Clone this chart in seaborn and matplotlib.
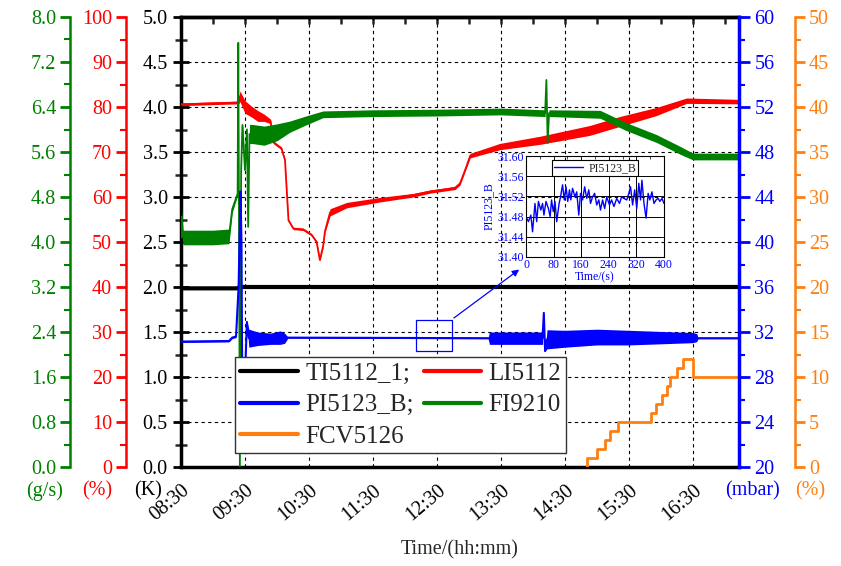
"""Cryogenic run overview: five process signals on stacked y-axes with a zoomed inset."""

import matplotlib
matplotlib.use("Agg")
import matplotlib.pyplot as plt
import seaborn as sns
import pandas as pd
import numpy as np
from matplotlib.lines import Line2D
from matplotlib.patches import Rectangle

# clock time is given in hours, 8.5 == 08:30
hour_ticks = [8.5, 9.5, 10.5, 11.5, 12.5, 13.5, 14.5, 15.5, 16.5]
hour_labels = ["08:30", "09:30", "10:30", "11:30", "12:30", "13:30", "14:30", "15:30", "16:30"]
t_end = 17.22

# TI5112_1, temperature (K)
ti_time = [8.5, 9.38, 9.42, t_end]
ti_val = [1.985, 1.985, 2.0, 2.0]

# LI5112, level (%)
li_time = [8.5, 9.40, 9.42, 9.5, 9.6, 9.7, 9.8, 9.9, 9.94, 10.07, 10.125, 10.18, 10.255,
           10.41, 10.54, 10.62, 10.67, 10.72, 10.75, 10.83, 11.09, 11.61, 12.13, 12.39,
           12.78, 12.86, 12.94, 13.02, 13.48, 14.11, 14.89, 15.36, 15.93, 16.4, t_end]
li_val = [80.6, 81.0, 82.4, 80.0, 79.0, 78.0, 77.6, 76.8, 72.2, 70.8, 68.2, 54.8, 53.0,
          52.8, 51.6, 50.0, 46.0, 49.0, 52.4, 56.6, 58.2, 59.4, 60.4, 61.2,
          62.0, 63.0, 66.0, 69.2, 71.2, 72.6, 74.8, 76.8, 79.0, 81.4, 81.2]
li_noise = [0.3, 0.3, 1.2, 1.4, 1.2, 1.2, 0.8, 0.5, 0.3, 0.3, 0.25, 0.25, 0.25,
            0.25, 0.25, 0.25, 0.25, 0.25, 0.3, 0.8, 0.6, 0.5, 0.4, 0.35,
            0.35, 0.35, 0.3, 0.5, 0.7, 0.9, 1.1, 1.1, 0.9, 0.6, 0.5]

# FI9210, flow (g/s)
fi_time = [8.5, 8.51, 8.53, 9.0, 9.25, 9.30, 9.385, 9.395, 9.405, 9.42, 9.44, 9.46, 9.50,
           9.53, 9.55, 9.57, 9.62, 9.8, 10.0, 10.2, 10.45, 10.72, 11.5, 12.5, 13.5,
           14.19, 14.21, 14.23, 14.25, 14.27, 15.05, 15.46, 15.93, 16.3, 16.5, t_end]
fi_val = [4.08, 4.45, 4.08, 4.08, 4.10, 4.58, 4.86, 7.54, 4.80, 0.0, 5.28, 6.08, 5.28,
          6.00, 4.27, 5.92, 5.92, 5.89, 5.95, 6.05, 6.16, 6.27, 6.29, 6.30, 6.32,
          6.29, 6.88, 5.76, 6.29, 6.29, 6.27, 6.05, 5.84, 5.63, 5.52, 5.52]
fi_noise = [0.12, 0.12, 0.13, 0.13, 0.13, 0.06, 0.03, 0.0, 0.0, 0.0, 0.0, 0.06, 0.06,
            0.06, 0.0, 0.17, 0.17, 0.17, 0.15, 0.1, 0.08, 0.06, 0.06, 0.06, 0.06,
            0.06, 0.0, 0.0, 0.06, 0.06, 0.07, 0.07, 0.07, 0.07, 0.06, 0.06]

# PI5123_B, pressure (mbar)
pi_time = [8.5, 9.25, 9.30, 9.36, 9.40, 9.43, 9.445, 9.46, 9.50, 9.53, 9.56, 9.7, 9.9,
           10.05, 10.12, 10.17, 13.30, 13.32, 14.15, 14.17, 14.19, 14.22, 14.5, 15.0,
           15.5, 16.0, 16.5, 16.56, 16.58, t_end]
pi_val = [31.15, 31.2, 31.5, 31.6, 36.0, 44.5, 40.0, 24.0, 28.0, 32.9, 31.45, 31.4, 31.4,
          31.5, 31.45, 31.5, 31.45, 31.45, 31.45, 33.7, 30.3, 31.35, 31.4, 31.55,
          31.5, 31.5, 31.5, 31.5, 31.45, 31.45]
pi_noise = [0.08, 0.08, 0.08, 0.1, 0.0, 0.0, 0.0, 0.0, 0.0, 0.0, 0.8, 0.6, 0.5,
            0.6, 0.45, 0.05, 0.05, 0.55, 0.55, 0.0, 0.0, 0.85, 0.75, 0.7,
            0.65, 0.55, 0.45, 0.35, 0.05, 0.05]

# FCV5126, valve opening (%)
fcv_time = [14.84, 14.84, 15.0, 15.125, 15.2, 15.33, 15.85, 15.93, 16.01, 16.09, 16.14,
            16.25, 16.35, 16.5, t_end]
fcv_val = [0, 1, 2, 3, 4, 5, 6, 7, 8, 9, 10, 11, 12, 10, 10]

# inset: PI5123_B over a 400 s window
in_time = [0, 7, 14, 19, 26, 31, 36, 43, 48, 52, 58, 65, 70, 74, 79, 84, 89, 96, 100, 106,
           111, 116, 121, 126, 130, 135, 142, 147, 153, 158, 164, 170, 176, 182, 187, 193,
           199, 205, 211, 216, 222, 228, 234, 242, 248, 255, 263, 271, 277, 284, 292, 298,
           303, 309, 315, 321, 327, 332, 336, 342, 348, 354, 359, 365, 371, 377, 383, 388,
           394, 400]
in_val = [31.480, 31.470, 31.483, 31.450, 31.506, 31.470, 31.510, 31.493, 31.506, 31.483,
          31.510, 31.496, 31.480, 31.513, 31.490, 31.510, 31.470, 31.506, 31.519, 31.543,
          31.513, 31.539, 31.510, 31.533, 31.513, 31.536, 31.519, 31.529, 31.483, 31.526,
          31.513, 31.539, 31.516, 31.533, 31.506, 31.519, 31.526, 31.503, 31.513, 31.493,
          31.513, 31.496, 31.519, 31.503, 31.513, 31.500, 31.516, 31.506, 31.519, 31.516,
          31.513, 31.526, 31.539, 31.503, 31.533, 31.496, 31.546, 31.513, 31.552, 31.506,
          31.477, 31.526, 31.513, 31.529, 31.506, 31.513, 31.516, 31.510, 31.516, 31.506]
# zoom window marked on the main plot (hours, mbar)
zoom_box = (12.17, 30.3, 12.73, 33.1)
zoom_arrow_to = (13.82, 37.7)

GREEN = "#008000"
RED = "#ff0000"
BLUE = "#0000ff"
ORANGE = "#ff7f0e"
FS = 14.5


def draw_series(axis, tvals, vvals, color, lwidth, noise=None, **kws):
    """Line through the readings, plus a filled band for the signal noise."""
    dfrm = pd.DataFrame({"t": tvals, "v": vvals})
    sns.lineplot(data=dfrm, x="t", y="v", ax=axis, color=color, lw=lwidth,
                 estimator=None, sort=False, **kws)
    if noise is not None:
        vals = np.array(vvals)
        nse = np.array(noise)
        axis.fill_between(tvals, vals - nse, vals + nse, color=color, lw=0)
    axis.set_xlabel("")
    axis.set_ylabel("")


def style_twin(axis, side, pos, color, lim, major, minor, fmt):
    """Put a twin y-axis on one side, at pos in axes fraction."""
    for name in ("top", "bottom", "left", "right"):
        axis.spines[name].set_visible(False)
    axis.spines[side].set_visible(True)
    axis.spines[side].set_position(("axes", pos))
    axis.spines[side].set_color(color)
    axis.spines[side].set_linewidth(2.5 if pos == 1 else 1.8)
    axis.yaxis.set_ticks_position(side)
    axis.set_ylim(*lim)
    axis.set_yticks(np.arange(lim[0], lim[1] + major / 2, major))
    axis.set_yticks(np.arange(lim[0], lim[1] + minor / 2, minor), minor=True)
    axis.set_yticklabels([fmt.format(v) for v in np.arange(lim[0], lim[1] + major / 2, major)])
    axis.tick_params(axis="y", which="major", direction="out", length=7, width=2,
                     color=color, labelcolor=color, labelsize=FS, pad=3)
    axis.tick_params(axis="y", which="minor", direction="out", length=4, width=1.5, color=color)


sns.set_theme(style="white")
plt.rcParams["font.family"] = ["Liberation Serif", "DejaVu Serif"]

fig = plt.figure(figsize=(8.41, 5.66), dpi=100)
ax = fig.add_axes([181 / 841, 1 - 467 / 566, 558 / 841, 450 / 566])
ax_r = ax.twinx()
ax_g = ax.twinx()
ax_o = ax.twinx()
ax_b = ax.twinx()

# main K axis and time axis
draw_series(ax, ti_time, ti_val, "black", 3.0)
ax.set_xlim(8.5, t_end)
ax.set_ylim(0, 5.0)
ax.set_yticks(np.arange(0, 5.01, 0.5))
ax.set_yticks(np.arange(0, 5.01, 0.25), minor=True)
ax.set_yticklabels(["{:.1f}".format(v) for v in np.arange(0, 5.01, 0.5)])
ax.set_xticks(hour_ticks)
ax.set_xticks(np.arange(8.5, t_end, 0.5), minor=True)
ax.set_xticklabels(hour_labels, rotation=40, ha="right", rotation_mode="anchor")
ax.tick_params(axis="both", which="major", direction="inout", length=12, width=2,
               labelsize=FS, colors="black")
ax.tick_params(axis="both", which="minor", direction="inout", length=8, width=1.8)
ax.tick_params(axis="x", which="major", pad=4)
for name in ("left", "bottom", "top"):
    ax.spines[name].set_linewidth(2.5)
    ax.spines[name].set_color("black")
ax.grid(True, which="major", color="black", ls=(0, (3, 3)), lw=0.8)
top = ax.secondary_xaxis("top")
top.set_xticks(np.arange(8.5, t_end, 0.5))
top.tick_params(direction="in", length=5, width=1.8, labeltop=False)
top.spines["top"].set_linewidth(2.5)

draw_series(ax_r, li_time, li_val, RED, 1.3, li_noise)
style_twin(ax_r, "left", -55 / 558, RED, (0, 100), 10, 5, "{:.0f}")

draw_series(ax_g, fi_time, fi_val, GREEN, 1.3, fi_noise)
style_twin(ax_g, "left", -111 / 558, GREEN, (0, 8.0), 0.8, 0.4, "{:.1f}")

draw_series(ax_o, fcv_time, fcv_val, ORANGE, 2.0, drawstyle="steps-post")
style_twin(ax_o, "right", 1 + 56 / 558, ORANGE, (0, 50), 5, 2.5, "{:.0f}")

draw_series(ax_b, pi_time, pi_val, BLUE, 1.5, pi_noise)
style_twin(ax_b, "right", 1, BLUE, (20, 60), 4, 2, "{:.0f}")
ax_b.tick_params(axis="y", which="major", length=8)
for axis in (ax_r, ax_g, ax_o, ax_b):
    axis.set_xlim(8.5, t_end)

# zoom window and pointer to the inset
x0, y0, x1, y1 = zoom_box
ax_b.add_patch(Rectangle((x0, y0), x1 - x0, y1 - y0, fill=False, ec=BLUE, lw=0.9))
ax_b.annotate("", xy=zoom_arrow_to, xytext=(x1, y1),
              arrowprops=dict(arrowstyle="-|>", color=BLUE, lw=0.9, mutation_scale=10))

handles = [Line2D([], [], color="black", lw=3), Line2D([], [], color=BLUE, lw=3),
           Line2D([], [], color=ORANGE, lw=3), Line2D([], [], color=RED, lw=3),
           Line2D([], [], color=GREEN, lw=3)]
labels = ["TI5112_1;", "PI5123_B;", "FCV5126", "LI5112", "FI9210"]
leg = ax_b.legend(handles, labels, ncol=2, loc="lower left", bbox_to_anchor=(0.097, 0.031),
                  borderaxespad=0, fontsize=18, handlelength=2.3, handletextpad=0.3,
                  columnspacing=0.4, labelspacing=0.37, borderpad=0.2, fancybox=False,
                  framealpha=1, edgecolor="#333333")
leg.get_frame().set_linewidth(1.0)
leg.set_zorder(10)

# unit labels under each axis
units = [(45, "(g/s)", GREEN), (97, "(%)", RED), (148, "(K)", "black"),
         (753, "(mbar)", BLUE), (810, "(%)", ORANGE)]
for xpix, txt, col in units:
    fig.text(xpix / 841, 1 - 491 / 566, txt, color=col, fontsize=FS, ha="center", va="center")
fig.text(460 / 841, 1 - 550 / 566, "Time/(hh:mm)", fontsize=FS, ha="center", va="center")

# inset
axin = fig.add_axes([526 / 841, 1 - 257 / 566, 138 / 841, 101 / 566])
axin.patch.set_alpha(0)
sns.lineplot(x=in_time, y=in_val, ax=axin, color=BLUE, lw=1.0, estimator=None, sort=False,
             label="PI5123_B")
axin.set_xlim(0, 400)
axin.set_ylim(31.40, 31.60)
axin.set_xticks(np.arange(0, 401, 80))
axin.set_xticks(np.arange(0, 401, 40), minor=True)
axin.set_yticks(np.arange(31.40, 31.601, 0.04))
axin.set_yticklabels(["{:.2f}".format(v) for v in np.arange(31.40, 31.601, 0.04)])
axin.tick_params(which="both", direction="in", top=True, right=True, labelsize=8.5,
                 labelcolor=BLUE, length=2, width=0.6, pad=1.5)
axin.grid(True, which="major", color="black", lw=0.7, ls="-")
for spine in axin.spines.values():
    spine.set_color("black")
    spine.set_linewidth(0.8)
axin.set_xlabel("Time/(s)", color=BLUE, fontsize=8.5, labelpad=0)
axin.set_ylabel("PI5123_B", color=BLUE, fontsize=8.5, labelpad=2)
axin.legend(loc="upper center", fontsize=8.5, handlelength=2.5, handletextpad=0.4,
            borderpad=0.2, fancybox=False, framealpha=1, edgecolor="black",
            borderaxespad=0.3).get_frame().set_linewidth(0.8)

fig.savefig("out.png", dpi=100)
